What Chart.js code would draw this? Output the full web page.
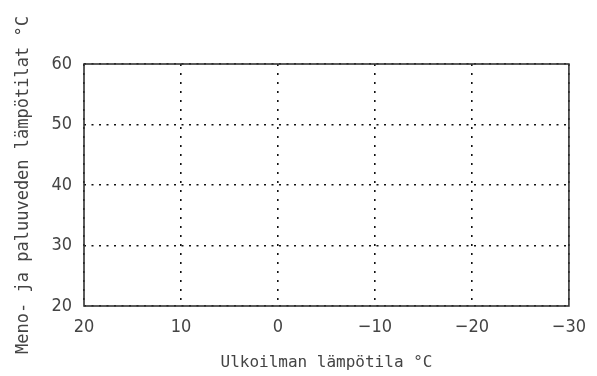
<!DOCTYPE html>
<html>
<head>
<meta charset="utf-8">
<script src="https://cdn.jsdelivr.net/npm/chart.js@4/dist/chart.umd.min.js"></script>
<style>
  html, body { margin: 0; padding: 0; background: #fff; }
  #wrap { width: 597px; height: 376px; }
</style>
</head>
<body>
<div id="wrap"><canvas id="c" width="597" height="376"></canvas></div>
<script>
// Axis ranges and titles for the empty temperature chart
const outdoorRange = [-30, 20];      // ulkolämpötila, °C (drawn reversed)
const waterRange = [20, 60];         // meno- ja paluuveden lämpötila, °C
const tickStep = 10;
const xTitle = 'Ulkoilman lämpötila °C';
const yTitle = 'Meno- ja paluuveden lämpötilat °C';

const FAMILY = '"DejaVu Sans Mono", monospace';
const TICK_FONT = { family: '"DejaVu Sans Condensed", "DejaVu Sans Mono", sans-serif', size: 18 };
const TEXT = '#444';

// Solid frame round the plot area
const framePlugin = {
  id: 'frame',
  afterDatasetsDraw(chart) {
    const { ctx, chartArea: a } = chart;
    ctx.save();
    ctx.strokeStyle = '#333';
    ctx.lineWidth = 1.6;
    ctx.strokeRect(a.left, a.top, a.right - a.left, a.bottom - a.top);
    ctx.restore();
  }
};

new Chart(document.getElementById('c'), {
  type: 'scatter',
  data: { datasets: [{ data: [] }] },
  options: {
    responsive: false,
    animation: false,
    layout: { padding: { top: 64, right: 26, left: 0, bottom: 0 } },
    plugins: { legend: { display: false }, tooltip: { enabled: false } },
    scales: {
      x: {
        type: 'linear',
        reverse: true,
        min: outdoorRange[0],
        max: outdoorRange[1],
        border: { display: false, dash: [2, 7] },
        grid: { color: '#111', lineWidth: 1.6, drawTicks: false },
        ticks: {
          stepSize: tickStep, color: TEXT, font: TICK_FONT, padding: 11,
          callback: v => (v < 0 ? '\u2212' + Math.abs(v) : String(v))
        },
        title: { display: true, text: xTitle, color: TEXT, font: { family: FAMILY, size: 16 }, padding: { top: 0, bottom: 4 } },
        afterFit(s) { s.height = 70; }
      },
      y: {
        min: waterRange[0],
        max: waterRange[1],
        border: { display: false, dash: [2, 5.5] },
        grid: { color: '#111', lineWidth: 1.6, drawTicks: false },
        ticks: { stepSize: tickStep, color: TEXT, font: TICK_FONT, padding: 12 },
        title: { display: true, text: yTitle, color: TEXT, font: { family: FAMILY, size: 17 }, padding: { top: 13, bottom: 0 } },
        afterFit(s) { s.width = 84; }
      }
    }
  },
  plugins: [framePlugin]
});
</script>
</body>
</html>
